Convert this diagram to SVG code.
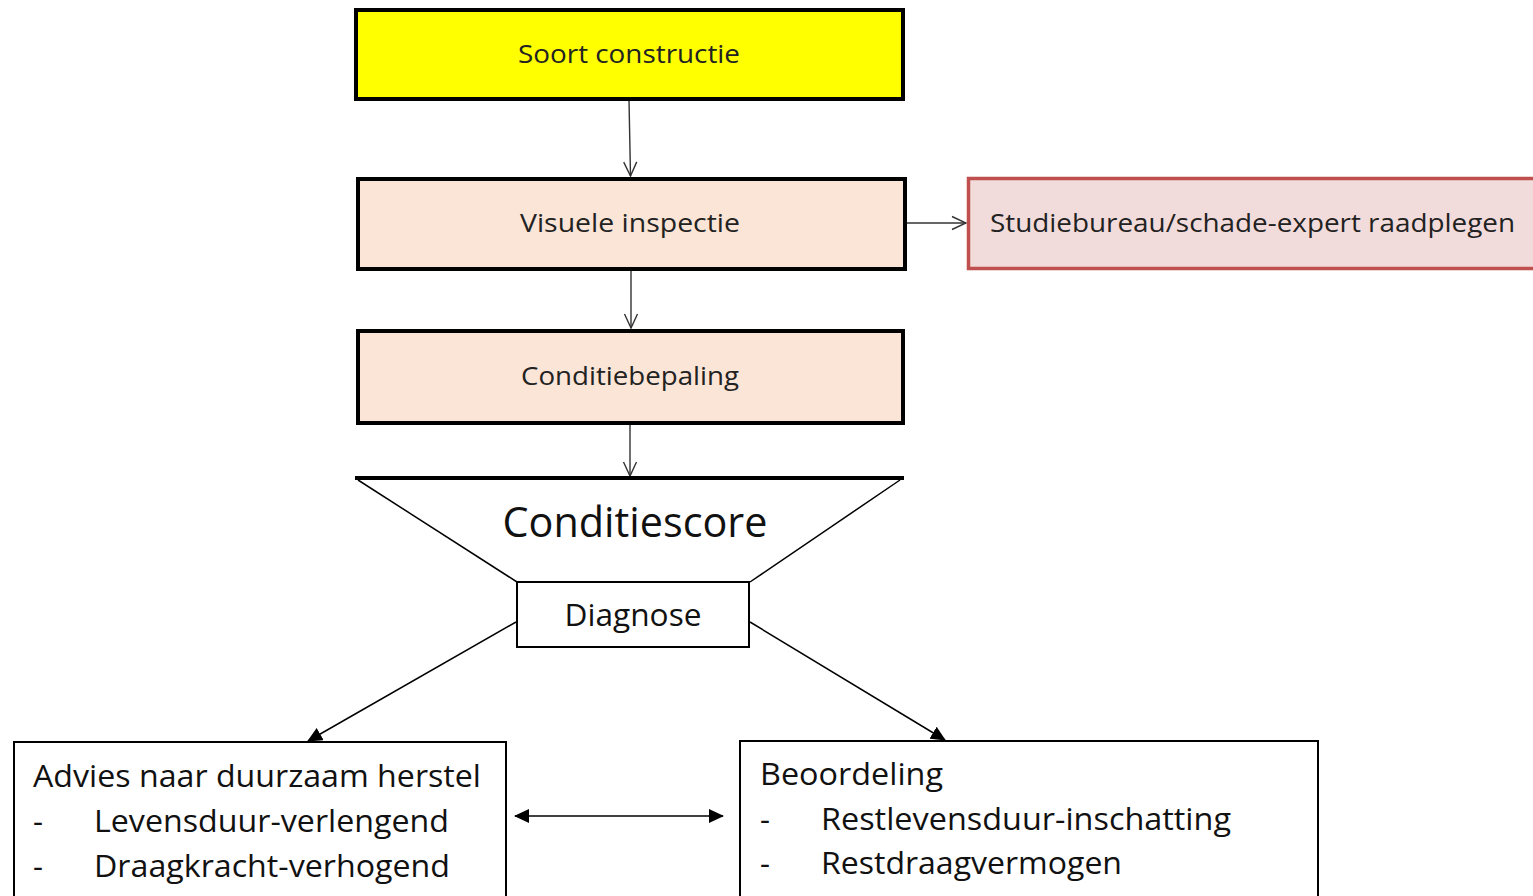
<svg xmlns="http://www.w3.org/2000/svg" width="1533" height="896" viewBox="0 0 1533 896">
<style>
text{font-family:"Open Sans","Noto Sans","Liberation Sans",sans-serif;fill:#111}
.s{font-size:25px;fill:#222}
.b{font-size:31px}
.thick{stroke:#000;stroke-width:4}
.thin{stroke:#000;stroke-width:2;fill:#fff}
.con{stroke:#333;stroke-width:1.4;fill:none}
.con2{stroke:#000;stroke-width:1.5;fill:none}
</style>
<defs>
<marker id="open" viewBox="0 0 16 16" refX="15" refY="8" markerWidth="16" markerHeight="16" markerUnits="userSpaceOnUse" orient="auto">
<path d="M1,1.5 L15,8 L1,14.5" fill="none" stroke="#333" stroke-width="1.4"/>
</marker>
<marker id="tri" viewBox="0 0 15 14" refX="14" refY="7" markerWidth="15" markerHeight="14" markerUnits="userSpaceOnUse" orient="auto-start-reverse">
<path d="M0,0 L15,7 L0,14 Z" fill="#000"/>
</marker>
</defs>
<g id="connectors">
<line class="con" x1="629" y1="100" x2="630.5" y2="176" marker-end="url(#open)"/>
<line class="con" x1="631" y1="270" x2="631" y2="328" marker-end="url(#open)"/>
<line class="con" x1="630" y1="424" x2="630" y2="476" marker-end="url(#open)"/>
<line class="con" x1="906" y1="223" x2="966" y2="223" marker-end="url(#open)"/>
<line class="con2" x1="516" y1="622" x2="308" y2="741" marker-end="url(#tri)"/>
<line class="con2" x1="750" y1="622" x2="945" y2="740" marker-end="url(#tri)"/>
<line class="con2" x1="515" y1="816" x2="723" y2="816" marker-start="url(#tri)" marker-end="url(#tri)"/>
</g>
<g id="soort">
<rect x="356" y="10" width="547" height="89" fill="#FFFF00" class="thick"/>
<text class="s" x="629" y="63" text-anchor="middle" textLength="222" lengthAdjust="spacingAndGlyphs">Soort  constructie</text>
</g>
<g id="visuele">
<rect x="358" y="179" width="547" height="90" fill="#FBE5D6" class="thick"/>
<text class="s" x="630" y="232" text-anchor="middle" textLength="220" lengthAdjust="spacingAndGlyphs">Visuele inspectie</text>
</g>
<g id="studiebureau">
<rect x="968.5" y="178.5" width="570" height="90" fill="#F2DCDB" stroke="#C0504D" stroke-width="3.5"/>
<text class="s" x="990" y="232" textLength="525" lengthAdjust="spacingAndGlyphs">Studiebureau/schade-expert  raadplegen</text>
</g>
<g id="conditiebepaling">
<rect x="358" y="331" width="545" height="92" fill="#FBE5D6" class="thick"/>
<text class="s" x="630" y="385" text-anchor="middle" textLength="218" lengthAdjust="spacingAndGlyphs">Conditiebepaling</text>
</g>
<g id="conditiescore">
<line x1="355" y1="478" x2="904" y2="478" stroke="#000" stroke-width="4"/>
<line x1="358" y1="480" x2="517" y2="582" stroke="#000" stroke-width="1.5"/>
<line x1="900" y1="480" x2="750" y2="582" stroke="#000" stroke-width="1.5"/>
<text x="635" y="537" text-anchor="middle" font-size="42" textLength="265" lengthAdjust="spacingAndGlyphs">Conditiescore</text>
</g>
<g id="diagnose">
<rect x="517" y="582" width="232" height="65" class="thin"/>
<text class="b" x="633" y="626" text-anchor="middle" textLength="137" lengthAdjust="spacingAndGlyphs">Diagnose</text>
</g>
<g id="advies">
<rect x="14" y="742" width="492" height="160" class="thin"/>
<text class="b" x="33" y="787" textLength="448" lengthAdjust="spacingAndGlyphs">Advies naar duurzaam herstel</text>
<text class="b" x="33" y="832">-</text>
<text class="b" x="94" y="832" textLength="355" lengthAdjust="spacingAndGlyphs">Levensduur-verlengend</text>
<text class="b" x="33" y="877">-</text>
<text class="b" x="94" y="877" textLength="356" lengthAdjust="spacingAndGlyphs">Draagkracht-verhogend</text>
</g>
<g id="beoordeling">
<rect x="740" y="741" width="578" height="161" class="thin"/>
<text class="b" x="760" y="785" textLength="183" lengthAdjust="spacingAndGlyphs">Beoordeling</text>
<text class="b" x="760" y="830">-</text>
<text class="b" x="821" y="830" textLength="410" lengthAdjust="spacingAndGlyphs">Restlevensduur-inschatting</text>
<text class="b" x="760" y="874">-</text>
<text class="b" x="821" y="874" textLength="301" lengthAdjust="spacingAndGlyphs">Restdraagvermogen</text>
</g>
</svg>
